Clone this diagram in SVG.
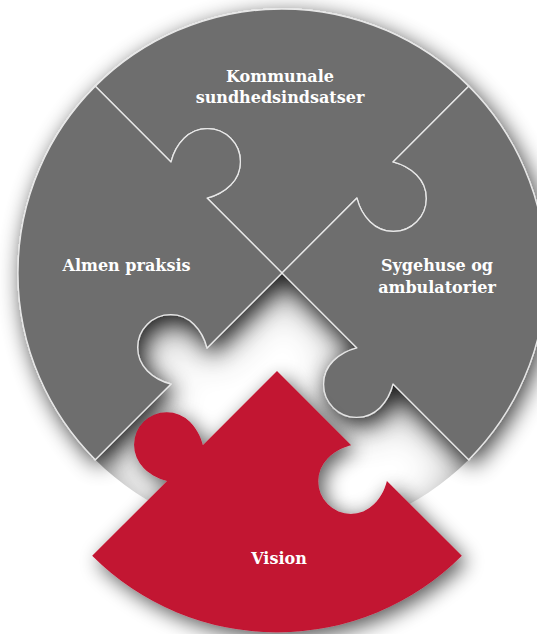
<svg xmlns="http://www.w3.org/2000/svg" xmlns:xlink="http://www.w3.org/1999/xlink" width="537" height="634" viewBox="0 0 537 634">
<style>
.gray{fill:#6e6e6e;stroke:#e8e8e8;stroke-width:1.3;stroke-linejoin:round}
.red{fill:#c21230}
.hole{fill:#ffffff}
.lbl{font-family:"DejaVu Serif","Liberation Serif",serif;font-weight:bold;font-size:16px;fill:#ffffff;text-anchor:middle}
</style>
<defs>
<path id="piece" d="M0,0 L-74.95,-74.95 C-69.30,-76.37 -59.75,-79.55 -51.27,-88.04 A33,33 0 0 0 -51.27,-134.70 A33,33 0 0 0 -97.93,-134.70 C-106.42,-126.22 -109.60,-116.67 -111.02,-111.02 L-186.68,-186.68 A264,264 0 0 1 186.68,-186.68 L111.02,-111.02 C116.67,-109.60 126.22,-106.42 134.70,-97.93 A33,33 0 0 1 134.70,-51.27 A33,33 0 0 1 88.04,-51.27 C79.55,-59.75 76.37,-69.30 74.95,-74.95 Z"/>
<filter id="sh" x="-20%" y="-20%" width="150%" height="150%">
<feGaussianBlur in="SourceAlpha" stdDeviation="11"/>
<feOffset dx="4" dy="6"/>
<feComponentTransfer><feFuncA type="linear" slope="0.75"/></feComponentTransfer>
<feMerge><feMergeNode/><feMergeNode in="SourceGraphic"/></feMerge>
</filter>
<filter id="sh2" x="-20%" y="-20%" width="150%" height="150%">
<feGaussianBlur in="SourceAlpha" stdDeviation="10"/>
<feOffset dx="5" dy="6"/>
<feComponentTransfer><feFuncA type="linear" slope="0.65"/></feComponentTransfer>
<feMerge><feMergeNode/><feMergeNode in="SourceGraphic"/></feMerge>
</filter>
<filter id="inner" x="-30%" y="-30%" width="160%" height="160%">
<feComponentTransfer in="SourceAlpha" result="inv"><feFuncA type="table" tableValues="1 0"/></feComponentTransfer>
<feGaussianBlur in="inv" stdDeviation="20"/>
<feOffset dx="2" dy="12"/>
<feComposite operator="in" in2="SourceAlpha"/>
<feComponentTransfer><feFuncA type="linear" slope="0.9"/></feComponentTransfer>
<feMerge><feMergeNode in="SourceGraphic"/><feMergeNode/></feMerge>
</filter>
</defs>
<rect width="537" height="634" fill="#ffffff"/>
<g id="hole" filter="url(#inner)">
<use xlink:href="#piece" class="hole" transform="translate(282,273) rotate(180)"/>
</g>
<g id="circle" filter="url(#sh)">
<g id="kommunale">
<use xlink:href="#piece" class="gray" transform="translate(282,273)"/>
</g>
<g id="almen-praksis">
<use xlink:href="#piece" class="gray" transform="translate(282,273) rotate(-90)"/>
</g>
<g id="sygehuse">
<use xlink:href="#piece" class="gray" transform="translate(282,273) rotate(90)"/>
</g>
</g>
<g id="vision" filter="url(#sh2)">
<use xlink:href="#piece" class="red" transform="translate(277,371) scale(0.99) rotate(180)"/>
</g>
<g id="labels">
<text class="lbl" x="280" y="81.5">Kommunale</text>
<text class="lbl" x="280" y="102.5">sundhedsindsatser</text>
<text class="lbl" x="126.5" y="270.5">Almen praksis</text>
<text class="lbl" x="437" y="270.5">Sygehuse og</text>
<text class="lbl" x="437" y="292.5">ambulatorier</text>
<text class="lbl" x="279" y="563.5">Vision</text>
</g>
</svg>
